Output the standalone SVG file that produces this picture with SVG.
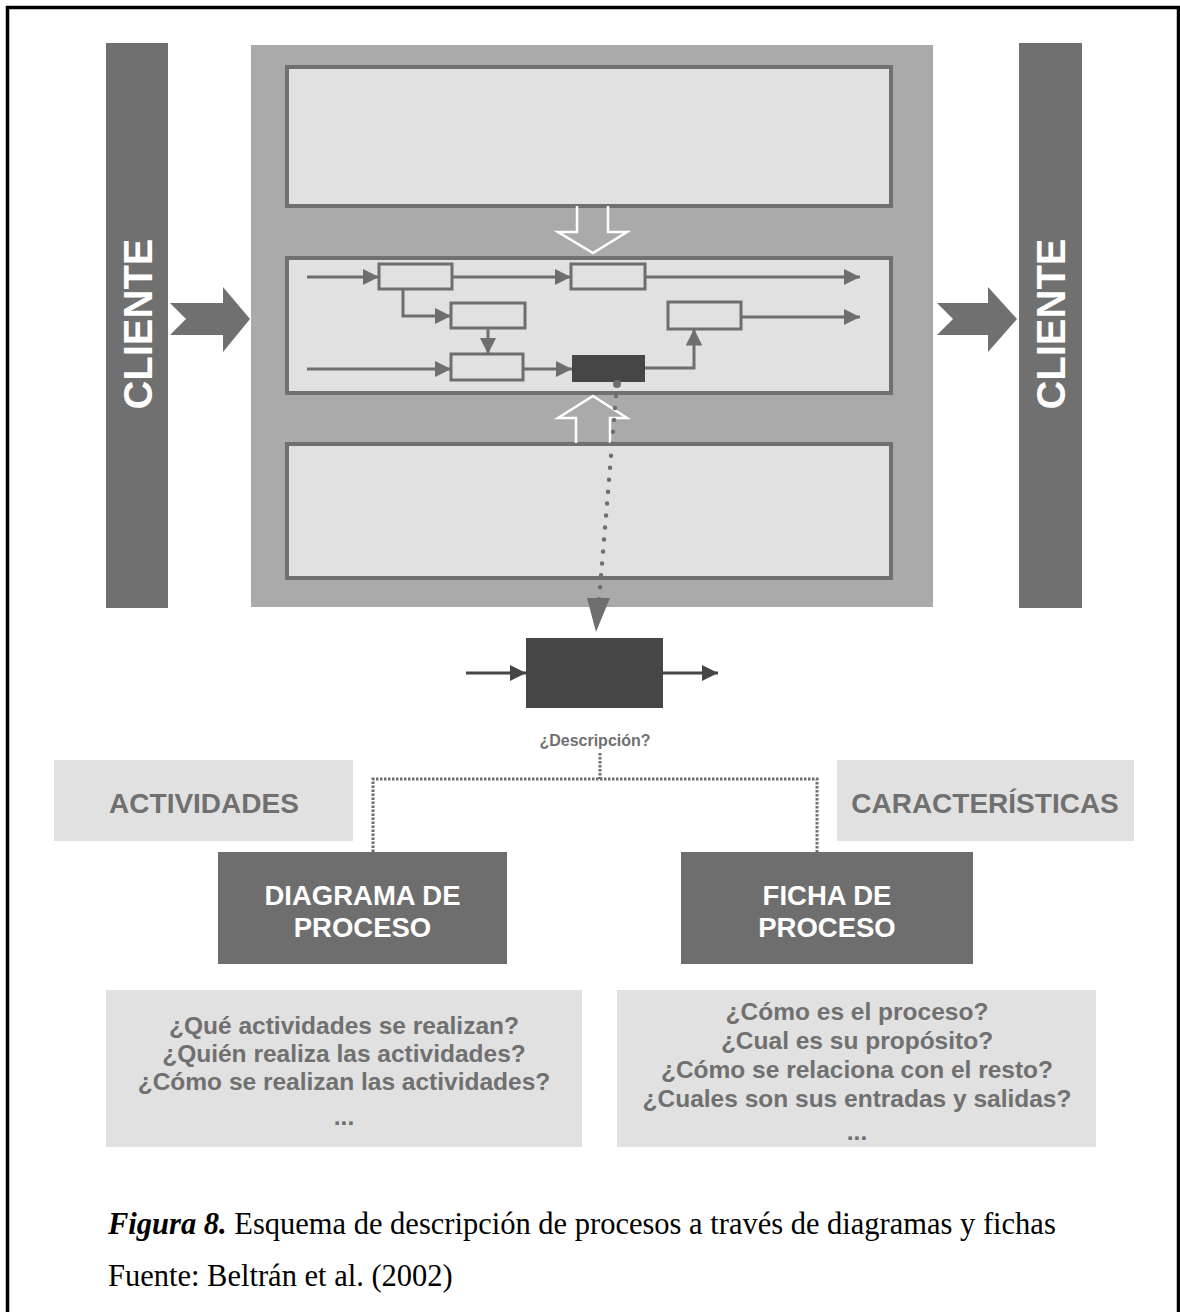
<svg xmlns="http://www.w3.org/2000/svg" width="1180" height="1312" viewBox="0 0 1180 1312">
  <defs>
    <style>
      .lane{fill:#707070}
      .panel{fill:#aaaaaa}
      .band{fill:#e1e1e1;stroke:#707070;stroke-width:4}
      .step{fill:#e1e1e1;stroke:#6e6e6e;stroke-width:3}
      .flow{fill:none;stroke:#6e6e6e;stroke-width:3}
      .hollow{fill:none;stroke:#ffffff;stroke-width:2.5;stroke-linejoin:miter}
      .dark{fill:#464646}
      .soft{fill:#e1e1e1}
      .head{fill:#6e6e6e}
      .lbl{font-family:"Liberation Sans",Arial,sans-serif;font-weight:bold;text-anchor:middle}
      .white{fill:#ffffff}
      .grey{fill:#707070}
      .cap{font-family:"Liberation Serif","Times New Roman",serif;font-size:30.5px;fill:#000}
    </style>
    <marker id="tri" viewBox="0 0 10 10" refX="10" refY="5" markerWidth="5.5" markerHeight="5.5" orient="auto" markerUnits="strokeWidth">
      <path d="M0,0 L10,5 L0,10 Z" fill="#6e6e6e"/>
    </marker>
    <marker id="triDark" viewBox="0 0 10 10" refX="10" refY="5" markerWidth="5.5" markerHeight="5.5" orient="auto" markerUnits="strokeWidth">
      <path d="M0,0 L10,5 L0,10 Z" fill="#464646"/>
    </marker>
  </defs>

  <rect width="1180" height="1312" fill="#ffffff"/>
  <!-- outer frame, open at the bottom -->
  <path d="M7.5,1320 V7.5 H1178.5 V1320" fill="none" stroke="#000" stroke-width="3.5"/>

  <!-- client lanes -->
  <g id="cliente-in">
    <rect class="lane" x="106" y="43" width="62" height="565"/>
    <text class="lbl white" font-size="40" transform="translate(151.5,324) rotate(-90)">CLIENTE</text>
  </g>
  <g id="cliente-out">
    <rect class="lane" x="1019" y="43" width="63" height="565"/>
    <text class="lbl white" font-size="40" transform="translate(1064.5,324) rotate(-90)">CLIENTE</text>
  </g>

  <!-- process map panel -->
  <g id="mapa">
    <rect class="panel" x="251" y="45" width="682" height="562"/>
    <rect id="banda-superior" class="band" x="287" y="67" width="604" height="139"/>
    <rect id="banda-central" class="band" x="287" y="258" width="604" height="135"/>
    <rect id="banda-inferior" class="band" x="287" y="444" width="604" height="134"/>
  </g>

  <!-- activity steps -->
  <g id="paso-a"><rect class="step" x="379" y="264" width="73" height="25"/></g>
  <g id="paso-b"><rect class="step" x="571" y="264" width="74" height="25"/></g>
  <g id="paso-c"><rect class="step" x="451" y="303" width="74" height="25"/></g>
  <g id="paso-d"><rect class="step" x="451" y="354" width="72" height="26"/></g>
  <g id="paso-e"><rect class="dark" x="572" y="355" width="73" height="27"/></g>
  <g id="paso-f"><rect class="step" x="668" y="302" width="73" height="27"/></g>

  <g id="proceso">
    <rect class="dark" x="526" y="638" width="137" height="70"/>
    <text class="lbl grey" font-size="16" x="595" y="746">¿Descripción?</text>
  </g>

  <g id="actividades">
    <rect class="soft" x="54" y="760" width="299" height="81"/>
    <text class="lbl grey" font-size="28" x="204" y="813">ACTIVIDADES</text>
  </g>
  <g id="caracteristicas">
    <rect class="soft" x="837" y="760" width="297" height="81"/>
    <text class="lbl grey" font-size="28" x="985" y="813">CARACTERÍSTICAS</text>
  </g>

  <g id="diagrama">
    <rect fill="#6e6e6e" x="218" y="852" width="289" height="112"/>
    <text class="lbl white" font-size="27.5" x="362.5" y="905">DIAGRAMA DE</text>
    <text class="lbl white" font-size="27.5" x="362.5" y="937">PROCESO</text>
  </g>
  <g id="ficha">
    <rect fill="#6e6e6e" x="681" y="852" width="292" height="112"/>
    <text class="lbl white" font-size="27.5" x="827" y="905">FICHA DE</text>
    <text class="lbl white" font-size="27.5" x="827" y="937">PROCESO</text>
  </g>

  <g id="preguntas-diagrama">
    <rect class="soft" x="106" y="990" width="476" height="157"/>
    <g class="lbl grey" font-size="24.5">
      <text x="344" y="1034">¿Qué actividades se realizan?</text>
      <text x="344" y="1062">¿Quién realiza las actividades?</text>
      <text x="344" y="1090">¿Cómo se realizan las actividades?</text>
      <text x="344" y="1125">...</text>
    </g>
  </g>
  <g id="preguntas-ficha">
    <rect class="soft" x="617" y="990" width="479" height="157"/>
    <g class="lbl grey" font-size="24.5">
      <text x="857" y="1020">¿Cómo es el proceso?</text>
      <text x="857" y="1049">¿Cual es su propósito?</text>
      <text x="857" y="1078">¿Cómo se relaciona con el resto?</text>
      <text x="857" y="1107">¿Cuales son sus entradas y salidas?</text>
      <text x="857" y="1140">...</text>
    </g>
  </g>

  <!-- connectors -->
  <g id="conectores">
    <!-- client in / out -->
    <polygon fill="#707070" points="170,303 223,303 223,287 250,319 223,352 223,335 170,335 186,319"/>
    <polygon fill="#707070" points="937,303 988,303 988,287 1017,319 988,352 988,335 937,335 953,319"/>

    <!-- inputs from upper and lower bands -->
    <path class="hollow" d="M577,206 V232 H558 L593,253 L627,232 H608 V206"/>
    <path class="hollow" d="M576,443 V418 H558 L593,396 L627,418 H610 V443"/>

    <!-- flow between steps -->
    <path class="flow" d="M307,277 H379" marker-end="url(#tri)"/>
    <path class="flow" d="M452,277 H571" marker-end="url(#tri)"/>
    <path class="flow" d="M645,277 H860" marker-end="url(#tri)"/>
    <path class="flow" d="M403,289 V316 H451" marker-end="url(#tri)"/>
    <path class="flow" d="M488,328 V354" marker-end="url(#tri)"/>
    <path class="flow" d="M307,369 H451" marker-end="url(#tri)"/>
    <path class="flow" d="M523,369 H572" marker-end="url(#tri)"/>
    <path class="flow" d="M645,368 H694 V329" marker-end="url(#tri)"/>
    <path class="flow" d="M741,317 H860" marker-end="url(#tri)"/>

    <!-- zoom onto one activity -->
    <circle cx="617" cy="384" r="4" fill="#6e6e6e"/>
    <path d="M617,384 L599,600" fill="none" stroke="#6e6e6e" stroke-width="4.5" stroke-linecap="round" stroke-dasharray="0 12"/>
    <polygon class="head" points="587,598 610,598 596,632"/>

    <!-- activity in / out -->
    <path d="M466,673 H526" fill="none" stroke="#464646" stroke-width="3" marker-end="url(#triDark)"/>
    <path d="M663,673 H718" fill="none" stroke="#464646" stroke-width="3" marker-end="url(#triDark)"/>

    <!-- description split -->
    <path d="M600,753 V779 M373,852 V779 H817 V852" fill="none" stroke="#6e6e6e" stroke-width="3" stroke-dasharray="2.5 1.5"/>
  </g>

  <!-- caption -->
  <text class="cap" x="108" y="1234"><tspan font-weight="bold" font-style="italic">Figura 8.</tspan> Esquema de descripción de procesos a través de diagramas y fichas</text>
  <text class="cap" x="108" y="1286">Fuente: Beltrán et al. (2002)</text>
</svg>
